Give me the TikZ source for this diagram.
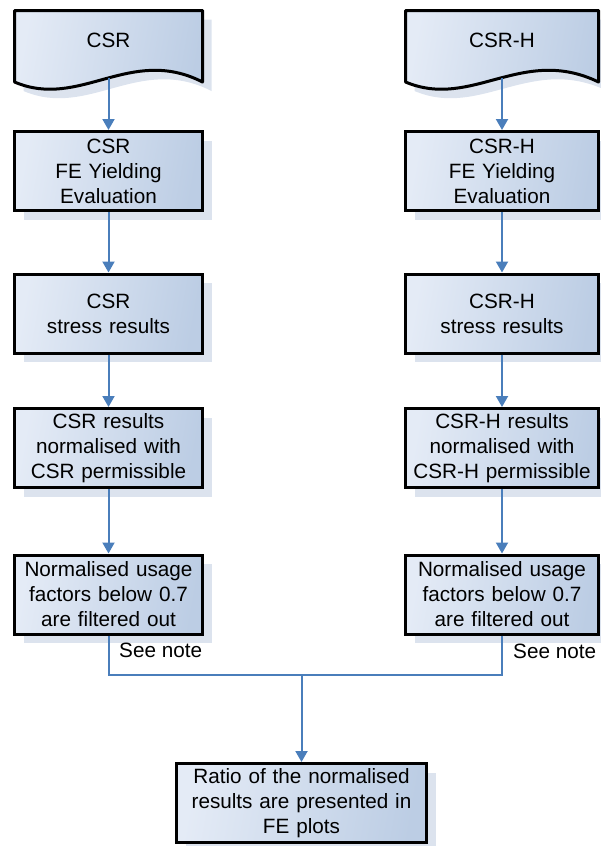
\documentclass[tikz,border=0pt]{standalone}
\usepackage{fontspec}
\setmainfont{Liberation Sans}
\usetikzlibrary{arrows.meta,shadows,calc}
\definecolor{arrowc}{HTML}{4A7EBB}
\definecolor{gradL}{HTML}{E4EBF6}
\definecolor{gradR}{HTML}{BCCDE4}
\definecolor{shadowc}{HTML}{DCE3EE}
\tikzset{
  boxfill/.style={left color=gradL, right color=gradR, shading angle=80},
  txt/.style={font=\fontsize{20.7}{25}\selectfont},
  procbox/.style={draw=black, line width=3pt, boxfill, rectangle, minimum height=79pt,
    inner xsep=2pt, inner ysep=0pt, align=center, txt,
    drop shadow={shadow xshift=9pt, shadow yshift=-9pt, fill=shadowc, opacity=1}},
  leftbox/.style={procbox, minimum width=188pt, text width=182pt},
  rightbox/.style={procbox, minimum width=193pt, text width=187pt},
  docshape/.style={draw=black, line width=3pt, line join=round, boxfill},
  flow/.style={draw=arrowc, line width=2pt, -{Triangle[width=12pt,length=11pt]}},
  link/.style={draw=arrowc, line width=2pt},
  notelabel/.style={txt, inner sep=0pt, anchor=base west},
  doctext/.style={txt, inner sep=0pt},
}
\begin{document}
\begin{tikzpicture}[x=1pt,y=-1pt]
\useasboundingbox (0,0) rectangle (601,846);

% document shapes (left)
\fill[shadowc, shift={(9,9)}] (14.5,10.5) -- (202.5,10.5) -- (202.5,82) .. controls (130,45) and (80,110) .. (14.5,82) -- cycle;
\path[docshape] (14.5,10.5) -- (202.5,10.5) -- (202.5,82) .. controls (130,45) and (80,110) .. (14.5,82) -- cycle;
\node[doctext] (docA) at (108.5,40) {CSR};
\coordinate (docAb) at (108.5,78);

% document shapes (right)
\fill[shadowc, shift={(9,9)}] (405.5,10.5) -- (598.5,10.5) -- (598.5,82) .. controls (522,45) and (472,110) .. (405.5,82) -- cycle;
\path[docshape] (405.5,10.5) -- (598.5,10.5) -- (598.5,82) .. controls (522,45) and (472,110) .. (405.5,82) -- cycle;
\node[doctext] (docB) at (502,40) {CSR-H};
\coordinate (docBb) at (502,78);

% left column
\node[leftbox] (a2) at (108.5,171) {CSR\\FE Yielding\\Evaluation};
\node[leftbox] (a3) at (108.5,313.5) {CSR\\stress results};
\node[leftbox] (a4) at (108.5,448) {CSR results\\normalised with\\CSR permissible};
\node[leftbox] (a5) at (108.5,594.5) {Normalised usage\\factors below 0.7\\are filtered out};

% right column
\node[rightbox] (b2) at (502,171) {CSR-H\\FE Yielding\\Evaluation};
\node[rightbox] (b3) at (502,313.5) {CSR-H\\stress results};
\node[rightbox] (b4) at (502,448) {CSR-H results\\normalised with\\CSR-H permissible};
\node[rightbox] (b5) at (502,594.5) {Normalised usage\\factors below 0.7\\are filtered out};

% final box
\node[procbox, minimum width=250pt, text width=244pt] (fin) at (301.5,803) {Ratio of the normalised\\results are presented in\\FE plots};

% notes
\node[notelabel] (n1) at (119,657) {See note};
\node[notelabel] (n2) at (513,658) {See note};

% connectors
\draw[flow] (docAb) -- (a2);
\draw[flow] (a2) -- (a3);
\draw[flow] (a3) -- (a4);
\draw[flow] (a4) -- (a5);
\draw[flow] (docBb) -- (b2);
\draw[flow] (b2) -- (b3);
\draw[flow] (b3) -- (b4);
\draw[flow] (b4) -- (b5);
\coordinate (j) at (301.5,675);
\draw[link] (a5.south) |- (j);
\draw[link] (b5.south) |- (j);
\draw[flow] (j) -- (fin);
\end{tikzpicture}
\end{document}
